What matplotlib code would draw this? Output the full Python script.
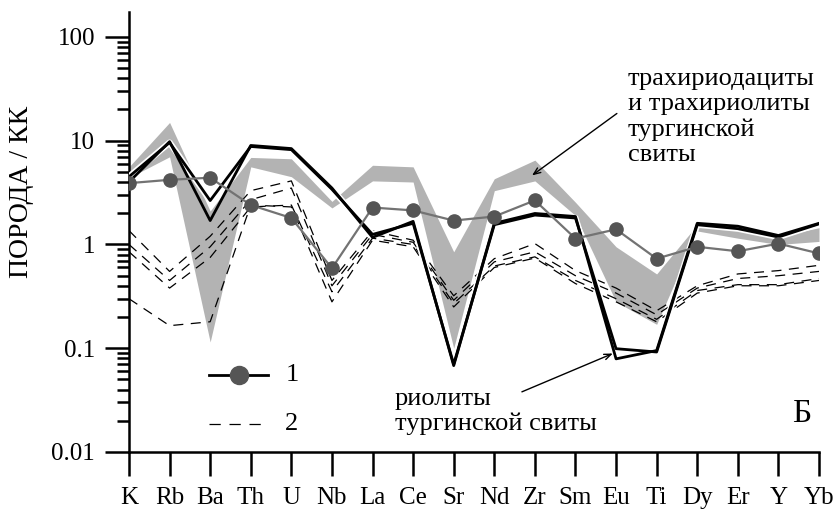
import matplotlib
matplotlib.use("Agg")
import matplotlib.pyplot as plt
import matplotlib.patheffects as pe
from matplotlib.ticker import LogLocator, FixedLocator, NullFormatter
import numpy as np

plt.rcParams['font.family'] = ['Liberation Serif', 'DejaVu Serif']

elements = ["K", "Rb", "Ba", "Th", "U", "Nb", "La", "Ce", "Sr", "Nd",
            "Zr", "Sm", "Eu", "Ti", "Dy", "Er", "Y", "Yb"]

# gray band: trachyriodacites / trachyriolites
band_top = [5.6, 15.0, 2.1, 6.9, 6.7, 2.6, 5.8, 5.6, 0.85, 4.3,
            6.5, 2.55, 0.95, 0.52, 1.55, 1.45, 1.2, 1.45]
band_bot = [4.4, 7.0, 0.115, 5.6, 4.5, 2.25, 4.1, 4.0, 0.1, 3.3,
            4.1, 1.9, 0.28, 0.17, 1.35, 1.15, 1.0, 1.07]

# rhyolites (two black lines)
rhy_a = [4.0, 9.8, 1.7, 9.0, 8.4, 3.5, 1.17, 1.67, 0.068, 1.6,
         1.99, 1.86, 0.079, 0.095, 1.6, 1.5, 1.22, 1.6]
rhy_b = [4.5, 9.6, 2.65, 8.8, 8.2, 3.4, 1.25, 1.6, 0.07, 1.55,
         1.92, 1.8, 0.099, 0.092, 1.55, 1.42, 1.18, 1.58]

# series 1
s1 = [3.9, 4.2, 4.4, 2.4, 1.8, 0.59, 2.27, 2.13, 1.7, 1.86,
      2.66, 1.14, 1.4, 0.73, 0.95, 0.86, 1.02, 0.82]

# series 2 (dashed)
s2 = [
    [1.36, 0.55, 1.2, 3.3, 4.1, 0.45, 1.35, 1.1, 0.32, 0.73,
     1.02, 0.56, 0.38, 0.23, 0.40, 0.52, 0.56, 0.63],
    [1.0, 0.45, 0.95, 2.7, 3.5, 0.40, 1.25, 1.05, 0.29, 0.68,
     0.85, 0.50, 0.34, 0.21, 0.38, 0.47, 0.50, 0.55],
    [0.85, 0.38, 0.75, 2.3, 2.4, 0.35, 1.15, 1.0, 0.27, 0.62,
     0.76, 0.45, 0.30, 0.19, 0.36, 0.41, 0.41, 0.47],
    [0.3, 0.165, 0.18, 2.4, 2.3, 0.28, 1.1, 0.95, 0.25, 0.60,
     0.74, 0.42, 0.28, 0.18, 0.34, 0.40, 0.40, 0.45],
]

x = np.arange(len(elements))

fig = plt.figure(figsize=(8.37, 5.15), dpi=100)
ax = fig.add_axes([129 / 837, 63 / 515, 690 / 837, 440 / 515])

ax.fill_between(x, band_bot, band_top, color="#b3b3b3", lw=0, zorder=1)

for d in s2:
    ax.plot(x, d, color="black", lw=0.9, dashes=(8, 6), zorder=2)

halo = [pe.Stroke(linewidth=4.5, foreground="white"), pe.Normal()]
ax.plot(x, rhy_b, color="black", lw=2.0, zorder=3, path_effects=halo)
ax.plot(x, rhy_a, color="black", lw=2.0, zorder=3)

ax.plot(x, s1, color="#737373", lw=1.6, marker="o", ms=9.5,
        mfc="#555555", mec="#555555", zorder=4)

# legend
ax.plot([1.97, 3.42], [0.0557, 0.0557], color="black", lw=2.0, zorder=5)
ax.plot([2.71], [0.0557], marker="o", ms=13, color="#555555", zorder=6)
ax.text(3.85, 0.0557, "1", fontsize=19, va="center", ha="left")
ax.plot([1.97, 3.42], [0.0188, 0.0188], color="black", lw=0.9, dashes=(9, 7))
ax.text(3.85, 0.0188, "2", fontsize=19, va="center", ha="left")

ax.set_yscale("log")
ax.set_ylim(0.01, 174)
ax.set_xlim(0, 17)

ax.set_xticks(x)
ax.set_xticklabels(elements, fontsize=18)
ax.yaxis.set_major_locator(FixedLocator([0.01, 0.1, 1, 10, 100]))
ax.set_yticklabels(["0.01", "0.1", "1", "10", "100"], fontsize=18)
ax.yaxis.set_minor_locator(LogLocator(base=10, subs=np.arange(2, 10)))
ax.yaxis.set_minor_formatter(NullFormatter())

ax.tick_params(axis="x", which="major", direction="out", length=17.5,
               width=1.8, pad=8)
ax.tick_params(axis="y", which="major", direction="out", length=17.5,
               width=1.8, pad=7)
ax.tick_params(axis="y", which="minor", direction="out", length=8.7,
               width=1.8)

for s in ["top", "right"]:
    ax.spines[s].set_visible(False)
for s in ["left", "bottom"]:
    ax.spines[s].set_linewidth(1.8)

ax.set_ylabel("ПОРОДА / КК", fontsize=20)
ax.yaxis.set_label_coords(-0.137, 0.59)

ax.text(12.29, 49.8, "трахириодациты\nи трахириолиты\nтургинской\nсвиты",
        fontsize=19, ha="left", va="top", linespacing=1.18)
arrow = dict(arrowstyle="->,head_length=0.5,head_width=0.2", color="black",
             lw=1.0, shrinkA=0, shrinkB=0)
ax.annotate("", xy=(9.93, 4.63), xytext=(12.02, 18.3), arrowprops=arrow)
ax.annotate("", xy=(11.92, 0.089), xytext=(9.68, 0.038), arrowprops=arrow)
ax.text(6.55, 0.0418, "риолиты\nтургинской свиты", fontsize=19,
        ha="left", va="top", linespacing=1.15)
ax.text(16.58, 0.0232, "Б", fontsize=24, ha="center", va="center")

fig.savefig("out.png", dpi=100)
